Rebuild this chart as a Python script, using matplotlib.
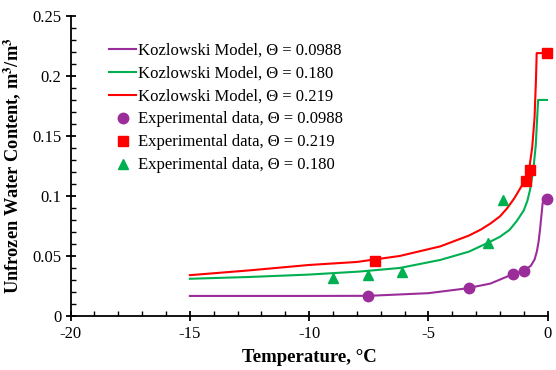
import numpy as np
import matplotlib.pyplot as plt
from matplotlib.ticker import MultipleLocator

plt.rcParams['font.family'] = ['Liberation Serif', 'DejaVu Serif']
plt.rcParams['mathtext.fontset'] = 'stix'
plt.rcParams['axes.unicode_minus'] = False

# Kozlowski model curves
t_0988 = [-15, -10, -7.5, -5, -3.4, -2.4, -1.5, -0.96, -0.7, -0.55, -0.45, -0.38, -0.32,
          -0.26, -0.21, -0.15, 0]
w_0988 = [0.0167, 0.0167, 0.0168, 0.019, 0.023, 0.027, 0.0345, 0.038, 0.042, 0.047, 0.054,
          0.062, 0.072, 0.084, 0.094, 0.098, 0.098]

t_180 = [-15, -12.5, -10, -7.9, -6.2, -4.5, -3.3, -2.5, -2.0, -1.6, -1.3, -1.0, -0.85,
         -0.74, -0.6, -0.5, -0.44, -0.4, 0]
w_180 = [0.031, 0.0325, 0.0345, 0.037, 0.040, 0.0467, 0.0536, 0.061, 0.066, 0.0717, 0.079,
         0.088, 0.096, 0.105, 0.122, 0.142, 0.165, 0.180, 0.180]

t_219 = [-15, -12.5, -10, -8, -6.2, -4.5, -3.3, -2.8, -2.4, -2.0, -1.7, -1.4, -1.1, -0.9,
         -0.75, -0.65, -0.55, -0.49, -0.46, 0]
w_219 = [0.034, 0.038, 0.0425, 0.045, 0.050, 0.058, 0.067, 0.072, 0.077, 0.083, 0.0897,
         0.098, 0.108, 0.116, 0.126, 0.140, 0.165, 0.197, 0.219, 0.219]

# Experimental data
exp_t_0988 = [-7.55, -3.3, -1.47, -0.98, -0.03]
exp_w_0988 = [0.0167, 0.0233, 0.035, 0.0378, 0.0975]

exp_t_219 = [-7.25, -0.92, -0.75, -0.02]
exp_w_219 = [0.046, 0.1125, 0.122, 0.219]

exp_t_180 = [-9.0, -7.55, -6.11, -2.49, -1.87]
exp_w_180 = [0.032, 0.034, 0.037, 0.0606, 0.0967]

purple = '#9B2D9B'
green = '#00B050'
red = '#FF0000'

fig = plt.figure(figsize=(5.56, 3.70), dpi=100)
ax = fig.add_axes([0.127, 0.146, 0.858, 0.811])

l1, = ax.plot(t_0988, w_0988, color=purple, lw=1.5, label='Kozlowski Model, Θ = 0.0988')
l2, = ax.plot(t_180, w_180, color=green, lw=1.5, label='Kozlowski Model, Θ = 0.180')
l3, = ax.plot(t_219, w_219, color=red, lw=1.5, label='Kozlowski Model, Θ = 0.219')
m1, = ax.plot(exp_t_0988, exp_w_0988, 'o', color=purple, ms=7.5, ls='none',
              label='Experimental data, Θ = 0.0988', clip_on=False)
m2, = ax.plot(exp_t_219, exp_w_219, 's', color=red, ms=7.5, ls='none',
              label='Experimental data, Θ = 0.219', clip_on=False)
m3, = ax.plot(exp_t_180, exp_w_180, '^', color=green, ms=7.5, ls='none',
              label='Experimental data, Θ = 0.180', clip_on=False)

ax.set_xlim(-20, 0)
ax.set_ylim(0, 0.25)
ax.xaxis.set_major_locator(MultipleLocator(5))
ax.xaxis.set_minor_locator(MultipleLocator(1))
ax.yaxis.set_major_locator(MultipleLocator(0.05))
ax.yaxis.set_minor_locator(MultipleLocator(0.01))
ax.xaxis.set_major_formatter(plt.FuncFormatter(lambda v, p: '%d' % round(v)))
ax.yaxis.set_major_formatter(plt.FuncFormatter(lambda v, p: '0' if v == 0 else ('%.2f' % v).rstrip('0')))

for s in ['top', 'right']:
    ax.spines[s].set_visible(False)
for s in ['left', 'bottom']:
    ax.spines[s].set_linewidth(1.3)

ax.tick_params(which='major', direction='inout', length=7, width=1.3, labelsize=12)
ax.tick_params(which='minor', direction='in', length=3.5, width=1.0)
ax.tick_params(axis='x', pad=4)
ax.tick_params(axis='y', pad=3)

ax.set_xlabel('Temperature, °C', fontsize=13.5, fontweight='bold', labelpad=5)
ax.set_ylabel('Unfrozen Water Content, m$^\\mathbf{3}$/m$^\\mathbf{3}$', fontsize=13.2,
              fontweight='bold', labelpad=6)

ax.legend(handles=[l1, l2, l3, m1, m2, m3], loc='upper left', bbox_to_anchor=(0.066, 0.934),
          frameon=False, fontsize=12, handlelength=1.65, handletextpad=0.1,
          labelspacing=0.42, borderaxespad=0)

fig.savefig('out.png', dpi=100)
